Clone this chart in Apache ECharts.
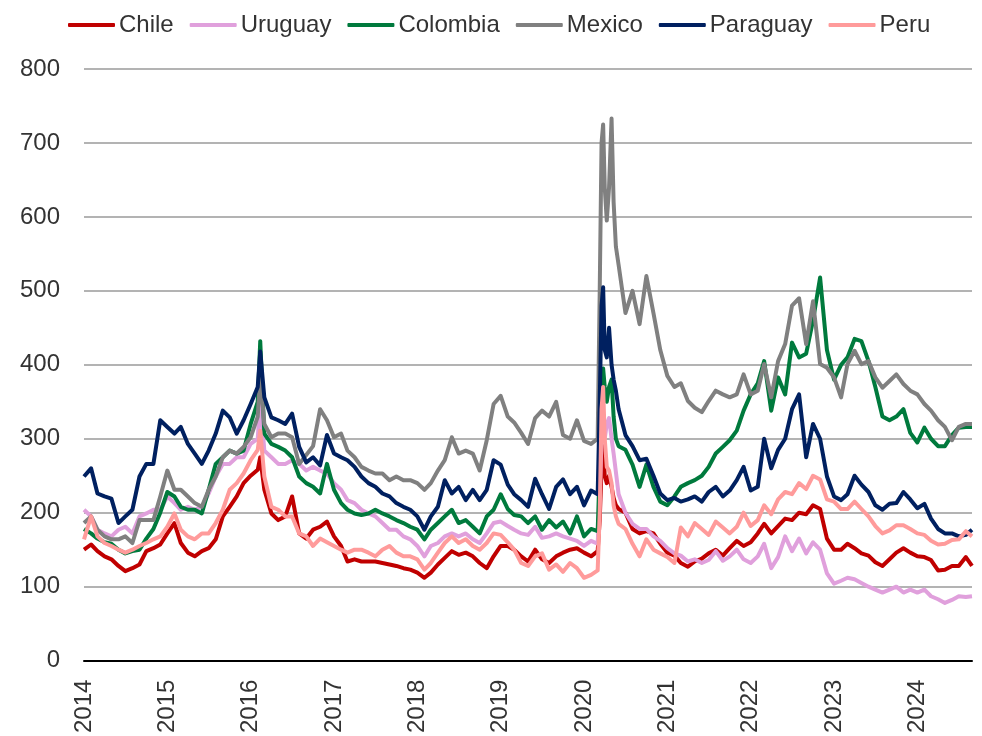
<!DOCTYPE html>
<html>
<head>
<meta charset="utf-8">
<script src="https://cdn.jsdelivr.net/npm/echarts@6/dist/echarts.min.js"></script>
<style>
html,body{margin:0;padding:0;background:#ffffff;}
#chart{width:982px;height:736px;}
</style>
</head>
<body>
<div id="chart"></div>
<script>
// Observation dates (monthly, with extra points around sharp spikes)
const dates = [
  '2014-01','2014-02','2014-03','2014-04','2014-05','2014-06','2014-07','2014-08','2014-09','2014-10','2014-11','2014-12',
  '2015-01','2015-02','2015-03','2015-04','2015-05','2015-06','2015-07','2015-08','2015-09','2015-10','2015-11','2015-12',
  '2016-01','2016-02','2016-02-12','2016-03','2016-04','2016-05','2016-06','2016-07','2016-08','2016-09','2016-10','2016-11','2016-12',
  '2017-01','2017-02','2017-03','2017-04','2017-05','2017-06','2017-07','2017-08','2017-09','2017-10','2017-11','2017-12',
  '2018-01','2018-02','2018-03','2018-04','2018-05','2018-06','2018-07','2018-08','2018-09','2018-10','2018-11','2018-12',
  '2019-01','2019-02','2019-03','2019-04','2019-05','2019-06','2019-07','2019-08','2019-09','2019-10','2019-11','2019-12',
  '2020-01','2020-02','2020-03','2020-03-10','2020-03-18','2020-03-25','2020-04','2020-04-10','2020-04-20','2020-05','2020-05-10','2020-05-20',
  '2020-06','2020-07','2020-08','2020-09','2020-10','2020-11','2020-12',
  '2021-01','2021-02','2021-03','2021-04','2021-05','2021-06','2021-07','2021-08','2021-09','2021-10','2021-11','2021-12',
  '2022-01','2022-02','2022-03','2022-04','2022-05','2022-06','2022-07','2022-08','2022-09','2022-10','2022-11','2022-12',
  '2023-01','2023-02','2023-03','2023-04','2023-05','2023-06','2023-07','2023-08','2023-09','2023-10','2023-11','2023-12',
  '2024-01','2024-02','2024-03','2024-04','2024-05','2024-06','2024-07','2024-08','2024-08-28'
];

const chile = [
  150,157,148,141,137,128,121,125,130,148,152,157,
  172,186,159,146,141,148,152,164,195,208,222,240,
  250,258,275,231,199,190,195,222,172,165,177,181,188,
  168,155,134,137,134,134,134,132,130,128,125,123,
  119,112,119,130,139,148,143,146,141,132,125,141,
  155,155,150,141,134,150,137,132,141,146,150,152,
  146,141,148,190,260,290,250,240,250,235,220,210,
  205,200,178,172,175,172,158,
  146,142,132,127,134,138,145,150,142,152,162,155,
  160,172,185,172,182,192,190,200,198,210,205,165,
  150,150,158,152,145,142,133,128,137,146,152,146,
  141,140,136,122,123,128,128,140,128
];

const uruguay = [
  204,195,177,172,168,177,181,172,195,199,204,204,
  222,213,204,208,204,208,226,249,266,266,275,275,
  293,300,355,284,275,266,266,271,266,257,262,257,253,
  240,231,217,213,204,199,195,186,177,177,168,164,
  155,141,155,159,168,172,168,172,164,159,172,186,
  188,182,177,172,170,181,166,168,172,168,165,162,
  155,162,158,220,300,310,300,320,328,300,280,255,
  225,200,185,178,178,168,162,
  152,145,142,134,137,132,136,148,135,141,150,137,
  132,141,158,125,140,168,148,165,145,160,150,118,
  104,108,112,110,105,100,96,92,96,100,92,96,
  92,96,87,83,78,82,87,86,87
];

const colombia = [
  178,172,165,160,158,150,145,148,150,165,178,200,
  228,222,208,204,204,199,231,266,275,284,280,284,
  320,350,432,307,293,289,284,275,249,240,235,226,266,
  231,213,204,199,197,199,204,199,195,190,186,181,
  177,164,177,186,195,204,186,190,181,172,195,204,
  225,205,197,195,186,195,177,190,180,188,172,195,
  168,178,175,260,380,395,370,350,370,380,330,300,
  290,285,265,235,265,235,215,
  210,222,235,240,244,250,262,280,289,298,311,338,
  360,375,405,338,383,360,430,410,415,460,518,420,
  380,400,410,435,432,405,370,330,325,330,340,308,
  295,315,300,290,290,305,315,316,316
];

const mexico = [
  186,195,177,168,164,164,168,159,190,190,190,222,
  257,231,231,222,213,208,231,249,275,284,280,289,
  302,330,385,320,302,307,307,302,266,278,290,340,325,
  302,307,284,275,262,257,253,253,244,249,244,244,
  240,231,240,257,271,302,280,284,280,257,298,347,
  358,330,322,308,293,328,338,330,350,305,300,325,
  297,293,300,500,700,725,640,595,640,733,620,560,
  535,470,500,455,520,470,420,
  385,370,375,351,342,336,351,365,360,356,360,387,
  360,365,401,356,405,428,480,490,428,486,401,396,
  383,356,401,419,401,405,383,369,378,387,374,365,
  360,347,338,325,316,298,316,320,320
];

const paraguay = [
  249,260,226,222,219,186,195,204,249,266,266,325,
  316,307,316,293,280,266,284,307,338,329,307,325,
  347,370,418,356,329,325,320,334,289,268,275,264,305,
  280,275,271,262,249,240,235,226,222,213,208,204,
  195,177,195,208,244,226,235,217,231,217,231,271,
  265,238,225,217,208,246,225,205,235,245,225,235,
  210,230,225,350,480,505,420,410,450,400,380,365,
  340,305,290,271,273,250,226,
  217,220,215,218,222,215,228,235,222,230,244,262,
  230,235,300,260,285,300,340,360,275,320,300,249,
  222,217,225,250,238,228,210,204,212,213,228,218,
  206,212,192,178,172,172,168,170,177
];

const peru = [
  164,195,168,159,155,150,146,150,155,159,164,168,
  181,199,177,168,164,172,172,186,204,231,240,253,
  271,285,311,249,208,204,195,195,172,168,155,165,160,
  155,150,146,150,150,146,141,150,155,146,141,141,
  137,123,132,146,159,168,159,164,155,150,159,172,
  170,160,150,132,128,141,145,123,130,120,132,125,
  112,116,122,200,340,370,300,262,257,240,210,195,
  185,178,158,141,164,150,145,
  140,132,180,168,186,178,170,188,180,172,181,200,
  182,190,210,198,218,228,225,240,232,250,245,218,
  215,205,205,215,205,195,182,172,176,183,183,178,
  172,170,162,157,158,163,164,175,168
];

const seriesNames = ['Chile','Uruguay','Colombia','Mexico','Paraguay','Peru'];
const seriesValues = [chile, uruguay, colombia, mexico, paraguay, peru];
const seriesColors = ['#C00000','#E0A0DC','#007A3D','#808080','#002060','#FF9B9B'];

const yMin = 0, yMax = 800, yStep = 100;
const xStartYear = 2014, xStep = 1;

function toYear(s) {
  const p = s.split('-').map(Number);
  const y = p[0], m = p[1], d = p[2] || 1;
  const start = Date.UTC(y, 0, 1), end = Date.UTC(y + 1, 0, 1);
  return y + (Date.UTC(y, m - 1, d) - start) / (end - start);
}
const xs = dates.map(toYear);

const FONT = '"Liberation Sans", Arial, sans-serif';
const TEXT = '#333333';
const chart = echarts.init(document.getElementById('chart'), null, {renderer: 'canvas'});
chart.setOption({
  animation: false,
  backgroundColor: '#ffffff',
  textStyle: {fontFamily: FONT},
  grid: {left: 84, right: 10, top: 69, bottom: 72, containLabel: false},
  legend: {
    top: 8,
    left: 63,
    icon: 'roundRect',
    itemWidth: 47,
    itemHeight: 4,
    itemGap: 16,
    textStyle: {fontFamily: FONT, fontSize: 24, color: TEXT, padding: [0, 0, 0, -1]},
    data: seriesNames
  },
  xAxis: {
    type: 'value',
    min: xStartYear,
    max: xs[xs.length - 1],
    interval: xStep,
    axisLine: {show: true, lineStyle: {color: '#000000', width: 2}},
    axisTick: {show: false},
    splitLine: {show: false},
    axisLabel: {
      rotate: 90,
      fontFamily: FONT,
      fontSize: 24,
      color: TEXT,
      margin: 19,
      showMaxLabel: false,
      formatter: function (v) { return String(Math.round(v)); }
    }
  },
  yAxis: {
    type: 'value',
    min: yMin,
    max: yMax,
    interval: yStep,
    axisLine: {show: false},
    axisTick: {show: false},
    splitLine: {show: true, lineStyle: {color: '#B3B3B3', width: 2}},
    axisLabel: {fontFamily: FONT, fontSize: 24, color: TEXT, margin: 24}
  },
  series: seriesNames.map(function (name, k) {
    return {
      type: 'line',
      name: name,
      data: xs.map(function (x, i) { return [x, seriesValues[k][i]]; }),
      showSymbol: false,
      symbol: 'none',
      lineStyle: {color: seriesColors[k], width: 4, join: 'round'},
      itemStyle: {color: seriesColors[k]}
    };
  })
});
</script>
</body>
</html>
